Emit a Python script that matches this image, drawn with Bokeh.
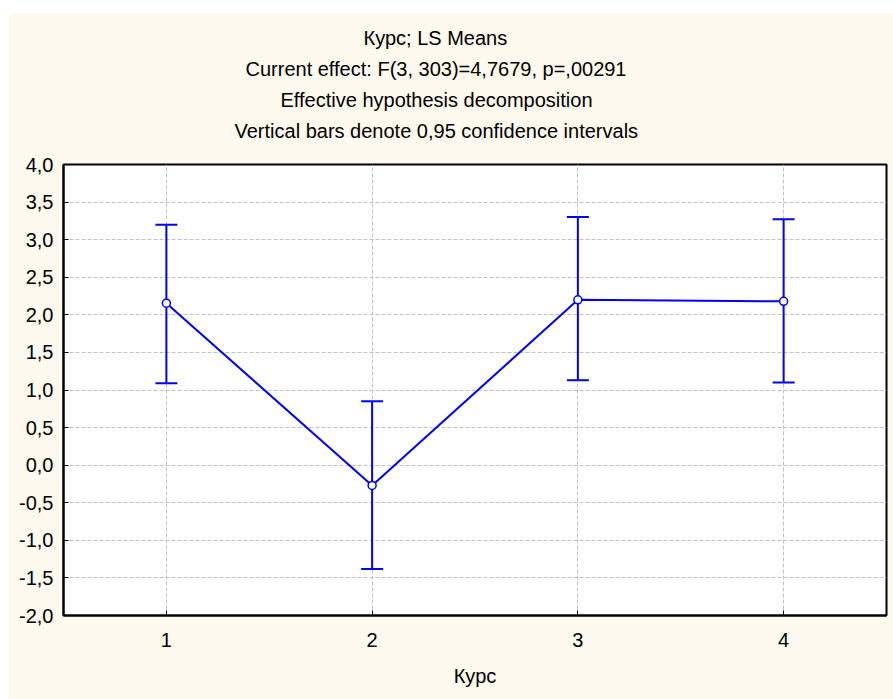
from bokeh.plotting import figure
from bokeh.models import (ColumnDataSource, Whisker, TeeHead, FixedTicker, CustomJSTickFormatter,
                          Title, Range1d, Spacer)
from bokeh.layouts import column, row
from bokeh.embed import file_html
from bokeh.resources import INLINE

# ---- data ----
kurs = [1, 2, 3, 4]
means = [2.155, -0.27, 2.20, 2.18]
upper = [3.20, 0.85, 3.30, 3.27]
lower = [1.09, -1.38, 1.13, 1.10]
y_ticks = [-2.0, -1.5, -1.0, -0.5, 0.0, 0.5, 1.0, 1.5, 2.0, 2.5, 3.0, 3.5, 4.0]
title_lines = [
    "Курс; LS Means",
    "Current effect: F(3, 303)=4,7679, p=,00291",
    "Effective hypothesis decomposition",
    "Vertical bars denote 0,95 confidence intervals",
]
x_label = "Курс"

FONT = "Liberation Sans"
CREAM = "#FEF9EE"
BLUE = "#0000FF"

src = ColumnDataSource(dict(x=kurs, m=means, up=upper, lo=lower))

p = figure(width=885, height=687, output_backend="svg", toolbar_location=None,
           x_range=Range1d(0.5, 4.5), y_range=Range1d(-2.0, 4.0),
           min_border_left=55, min_border_right=7, min_border_top=152, min_border_bottom=84)
p.border_fill_color = CREAM
p.background_fill_color = "white"
p.outline_line_color = "black"
p.outline_line_width = 2

# left offsets so that each title line is centred at the same point as in the original
title_offsets = [300, 182, 217, 171]

# spacer between frame and title block
p.add_layout(Title(text=" ", text_font_size="1px", standoff=16), "above")
# titles (added from the innermost line outward)
for t, off in reversed(list(zip(title_lines, title_offsets))):
    p.add_layout(Title(text=t, align="left", offset=off, text_font=FONT, text_font_size="20px",
                       text_font_style="normal", text_color="black", standoff=7), "above")

# axes
p.xaxis.ticker = FixedTicker(ticks=kurs)
p.yaxis.ticker = FixedTicker(ticks=y_ticks)
p.yaxis.formatter = CustomJSTickFormatter(code="return tick.toFixed(1).replace('.', ',');")
for ax in (p.xaxis[0], p.yaxis[0]):
    ax.axis_line_width = 2
    ax.axis_line_color = "black"
    ax.major_tick_in = 5
    ax.major_tick_out = 0
    ax.major_tick_line_color = "black"
    ax.minor_tick_line_color = None
    ax.major_label_text_font = FONT
    ax.major_label_text_font_size = "20px"
    ax.major_label_text_color = "black"
p.yaxis.major_label_standoff = 10
p.xaxis.major_label_standoff = 17
p.xaxis.axis_label = x_label
p.xaxis.axis_label_text_font = FONT
p.xaxis.axis_label_text_font_size = "20px"
p.xaxis.axis_label_text_font_style = "normal"
p.xaxis.axis_label_text_color = "black"
p.xaxis.axis_label_standoff = 15

p.grid.grid_line_color = "#C0C0C0"
p.grid.grid_line_dash = "4 2"
p.grid.grid_line_width = 1

# error bars
w = Whisker(source=src, base="x", upper="up", lower="lo", line_color=BLUE, line_width=2,
            upper_head=TeeHead(size=22, line_color=BLUE, line_width=2),
            lower_head=TeeHead(size=22, line_color=BLUE, line_width=2))
p.add_layout(w)

p.line("x", "m", source=src, line_color=BLUE, line_width=2)
p.scatter("x", "m", source=src, size=8, marker="circle", fill_color="white",
          line_color=BLUE, line_width=1.5)

layout = column(Spacer(height=12), row(Spacer(width=8), p, spacing=0), spacing=0)

open("out.html", "w").write(file_html(layout, INLINE))
